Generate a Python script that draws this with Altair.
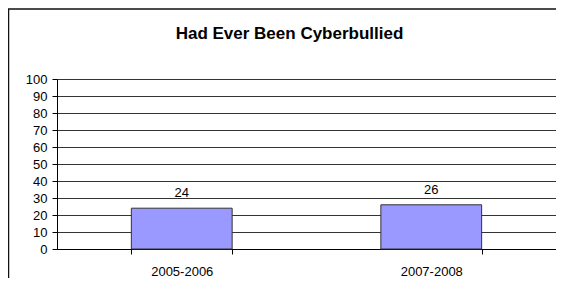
import altair as alt
import pandas as pd

categories = ["2005-2006", "2007-2008"]
values = [24, 26]
y_ticks = [0, 10, 20, 30, 40, 50, 60, 70, 80, 90, 100]
title_text = "Had Ever Been Cyberbullied"

df = pd.DataFrame({"period": categories, "pct": values})
frame_df = pd.DataFrame({"k": [0]})

FONT = "Liberation Sans"

x_enc = alt.X(
    "period:N",
    sort=categories,
    title=None,
    scale=alt.Scale(paddingInner=0.596, paddingOuter=0.298),
    axis=alt.Axis(
        labelAngle=0,
        tickBand="extent",
        tickSize=5,
        tickColor="#000",
        domainColor="#000",
        labelPadding=11,
        labelFontSize=13,
        labelColor="#000",
        grid=False,
    ),
)
y_enc = alt.Y(
    "pct:Q",
    title=None,
    scale=alt.Scale(domain=[0, 100], nice=False),
    axis=alt.Axis(
        values=y_ticks,
        tickSize=5,
        tickColor="#000",
        domainColor="#000",
        labelPadding=5,
        labelFontSize=13,
        labelColor="#000",
        labelOverlap=False,
        grid=True,
        gridColor="#333",
        gridWidth=1,
    ),
)

# outer chart frame (left and top edges visible in the reference)
frame = alt.Chart(frame_df).mark_rect(
    fillOpacity=0, stroke="#111", strokeWidth=1.5
).encode(
    x=alt.value(-48.5), x2=alt.value(520), y=alt.value(-70), y2=alt.value(260)
)

bars = alt.Chart(df).mark_bar(
    color="#9999FF", stroke="#333", strokeWidth=1
).encode(x=x_enc, y=y_enc)

labels = alt.Chart(df).mark_text(
    baseline="alphabetic", dy=-11, fontSize=13, font=FONT, color="#000"
).encode(
    x=x_enc,
    y=y_enc,
    text=alt.Text("pct:Q"),
)

chart = alt.layer(frame, bars, labels).properties(
    width=499,
    height=170,
    title=alt.TitleParams(
        title_text,
        fontSize=17,
        fontWeight="bold",
        font=FONT,
        color="#000",
        anchor="middle",
        frame="group",
        baseline="alphabetic",
        dx=-17,
        dy=48,
        offset=0,
    ),
    autosize=alt.AutoSizeParams(type="none"),
    padding={"left": 49, "top": 71, "right": 0, "bottom": 29},
    background="white",
).configure_view(
    stroke="#888", strokeWidth=1
).configure_axis(
    labelFont=FONT
)

chart.save("out.html", embed_options={"renderer": "svg", "actions": False})
